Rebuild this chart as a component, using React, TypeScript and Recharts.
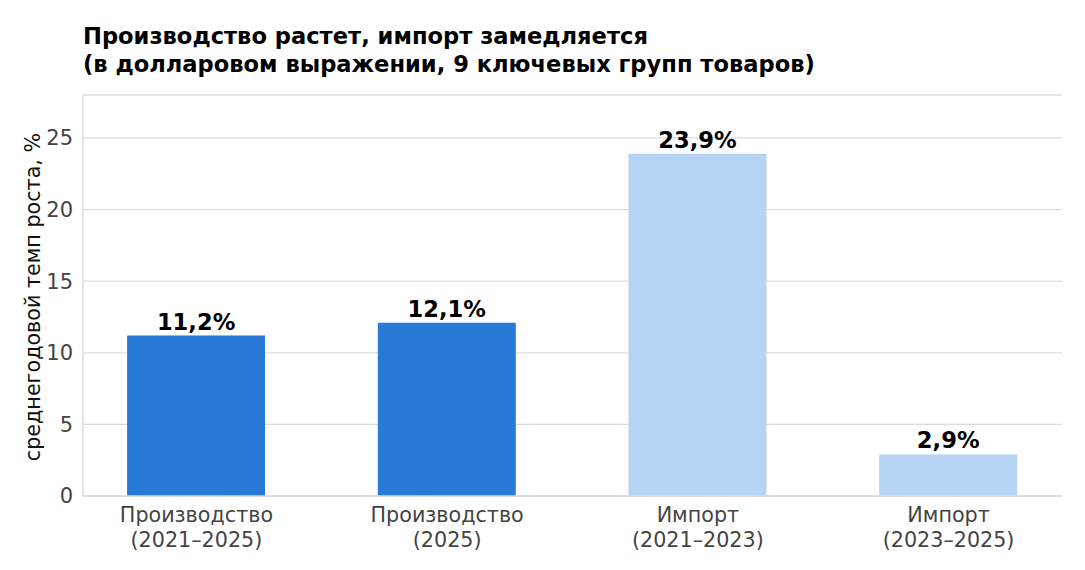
import { Bar, BarChart, CartesianGrid, Cell, LabelList, XAxis, YAxis } from 'recharts';

const CATEGORIES = ['Производство\n(2021–2025)', 'Производство\n(2025)', 'Импорт\n(2021–2023)', 'Импорт\n(2023–2025)'];
const GROWTH = [11.2, 12.1, 23.9, 2.9];
const COLORS = ['#2979d6', '#2979d6', '#b5d4f4', '#b5d4f4'];
const Y_TICKS = [0, 5, 10, 15, 20, 25];

const data = CATEGORIES.map((name, i) => ({ x: i, name, value: GROWTH[i] }));

const FONT = '"DejaVu Sans", sans-serif';
const GRID = '#dcdcd8';

function CategoryTick({ x, y, payload }: any) {
  const lines = CATEGORIES[payload.value].split('\n');
  return (
    <text x={x} y={y} textAnchor="middle" fill="#444" fontSize={20.7} fontFamily={FONT}>
      {lines.map((l, i) => (
        <tspan key={i} x={x} dy={i === 0 ? 18 : 25}>
          {l}
        </tspan>
      ))}
    </text>
  );
}

export default function App() {
  return (
    <div style={{ position: 'absolute', left: 0, top: 0, width: 1085, height: 570, background: '#fff', fontFamily: FONT }}>
      <div style={{ position: 'absolute', left: 83, top: 22, fontSize: 22.6, fontWeight: 'bold', lineHeight: '28px', color: '#000', whiteSpace: 'nowrap' }}>
        Производство растет, импорт замедляется
        <br />
        (в долларовом выражении, 9 ключевых групп товаров)
      </div>
      <div
        style={{
          position: 'absolute',
          left: 33,
          top: 297,
          transform: 'translate(-50%, -50%) rotate(-90deg)',
          fontSize: 20.7,
          color: '#111',
          whiteSpace: 'nowrap',
        }}
      >
        среднегодовой темп роста, %
      </div>
      <BarChart width={1085} height={570} data={data} margin={{ top: 95, right: 23, bottom: 0, left: 0 }}>
        <CartesianGrid vertical={false} stroke={GRID} strokeWidth={1.3} />
        <XAxis
          type="number"
          dataKey="x"
          domain={[-0.4525, 3.4525]}
          ticks={[0, 1, 2, 3]}
          interval={0}
          tick={<CategoryTick />}
          tickLine={false}
          axisLine={{ stroke: GRID, strokeWidth: 1.5 }}
          height={74}
        />
        <YAxis
          width={83}
          domain={[0, 28]}
          ticks={Y_TICKS}
          tickLine={false}
          axisLine={{ stroke: GRID, strokeWidth: 1.5 }}
          tick={{ fill: '#444', fontSize: 21, fontFamily: FONT }}
          tickMargin={4}
        />
        <Bar dataKey="value" barSize={138} isAnimationActive={false}>
          {data.map((_, i) => (
            <Cell key={i} fill={COLORS[i]} />
          ))}
          <LabelList
            dataKey="value"
            position="top"
            offset={6}
            formatter={(v: any) => `${String(v).replace('.', ',')}%`}
            style={{ fill: '#000', fontSize: 22.6, fontWeight: 'bold', fontFamily: FONT }}
          />
        </Bar>
      </BarChart>
    </div>
  );
}
